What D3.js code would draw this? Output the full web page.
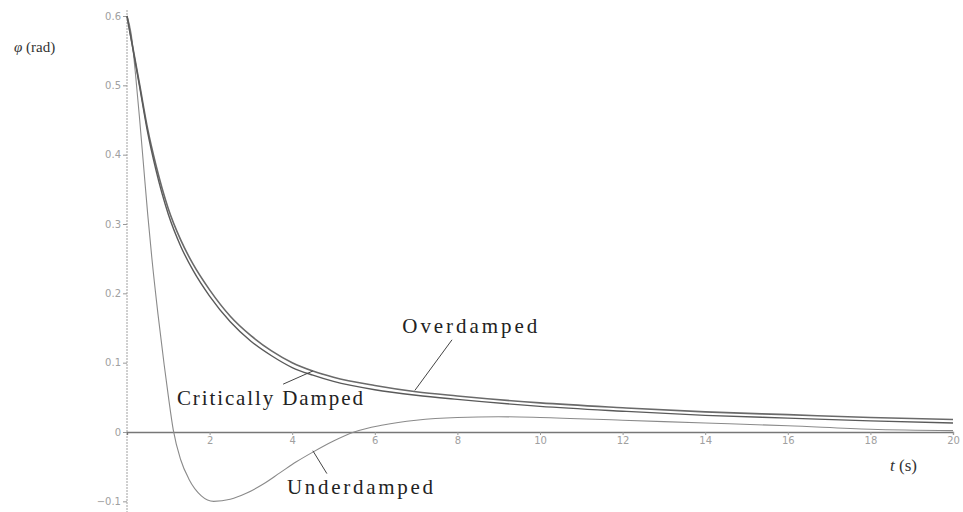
<!DOCTYPE html>
<html>
<head>
<meta charset="utf-8">
<script src="https://cdn.jsdelivr.net/npm/d3@7"></script>
<style>
  body { margin: 0; background: #fff; }
  svg { display: block; }
</style>
</head>
<body>
<svg id="chart" width="963" height="512"></svg>
<script>
// time samples (s) and angle (rad)
const overT   = [0, 0.15, 0.3, 0.5, 0.7, 1.0, 1.3, 1.6, 2.0, 2.5, 3.0, 3.5, 4.0, 4.5, 5, 6, 7, 8, 10, 12, 14, 16, 18, 20];
const overPhi = [0.6, 0.552, 0.503, 0.437, 0.385, 0.322, 0.277, 0.242, 0.205, 0.167, 0.139, 0.117, 0.1, 0.088, 0.079, 0.067, 0.058, 0.052, 0.042, 0.035, 0.029, 0.025, 0.021, 0.018];

const critT   = [0, 0.15, 0.3, 0.5, 0.7, 1.0, 1.3, 1.6, 2.0, 2.5, 3.0, 3.5, 4.0, 4.5, 5, 6, 7, 8, 10, 12, 14, 16, 18, 20];
const critPhi = [0.6, 0.55, 0.5, 0.432, 0.378, 0.314, 0.268, 0.233, 0.196, 0.159, 0.131, 0.11, 0.093, 0.082, 0.073, 0.061, 0.053, 0.047, 0.037, 0.03, 0.024, 0.02, 0.016, 0.013];

const underT   = [0, 0.1, 0.2, 0.3, 0.4, 0.5, 0.6, 0.75, 0.9, 1.0, 1.12, 1.3, 1.5, 1.8, 2.1, 2.5, 2.9, 3.3, 3.7, 4.1, 4.5, 5.0, 5.5, 6.2, 7.0, 8, 9, 10, 12, 14, 16, 18, 20];
const underPhi = [0.6, 0.575, 0.52, 0.455, 0.385, 0.315, 0.252, 0.17, 0.097, 0.052, 0.003, -0.04, -0.068, -0.092, -0.1, -0.097, -0.088, -0.075, -0.059, -0.043, -0.029, -0.013, 0, 0.01, 0.017, 0.021, 0.022, 0.021, 0.017, 0.013, 0.009, 0.004, 0.002];

const xTicks = [2, 4, 6, 8, 10, 12, 14, 16, 18, 20];
const yTicks = [-0.1, 0, 0.1, 0.2, 0.3, 0.4, 0.5, 0.6];

// curve labels: text, label centre (t, phi), pointer from (t, phi) to (t, phi)
const labelNames = ['Overdamped', 'Critically Damped', 'Underdamped'];
const labelAt    = [[8.3, 0.153], [3.46, 0.049], [5.64, -0.079]];
const pointers   = [[[7.87, 0.133], [6.97, 0.06]], [[3.78, 0.069], [4.5, 0.088]], [[4.5, -0.027], [4.84, -0.06]]];

const svg = d3.select('svg#chart');

const x = d3.scaleLinear().domain([0, 20]).range([127, 953]);
const y = d3.scaleLinear().domain([0, 0.6]).range([432, 16]);

// y axis (line runs the full height)
svg.append('line')
    .attr('x1', x(0)).attr('x2', x(0))
    .attr('y1', 10).attr('y2', 512)
    .attr('stroke', '#a0a0a0').attr('stroke-width', 1)
    .attr('stroke-dasharray', '2,1');

const yAxis = d3.axisLeft(y)
    .tickValues(yTicks)
    .tickSize(4)
    .tickFormat(d => d === 0 ? '0' : d3.format('.1f')(d));

svg.append('g')
    .attr('transform', `translate(${x(0)},0)`)
    .call(yAxis)
    .call(g => g.select('.domain').remove())
    .call(g => g.selectAll('.tick line').attr('stroke', '#999'))
    .call(g => g.selectAll('.tick text')
        .attr('fill', '#a0a0a0')
        .attr('x', -6)
        .style('font-family', '"DejaVu Sans", sans-serif')
        .style('font-size', '10px'));

// x axis along phi = 0
const xAxis = d3.axisBottom(x)
    .tickValues(xTicks)
    .tickSize(3)
    .tickFormat(d3.format('d'));

svg.append('g')
    .attr('transform', `translate(0,${y(0)})`)
    .call(xAxis)
    .call(g => g.select('.domain').attr('stroke', '#777').attr('stroke-width', 1.3))
    .call(g => g.selectAll('.tick line').attr('stroke', '#999'))
    .call(g => g.selectAll('.tick text')
        .attr('fill', '#a0a0a0')
        .attr('y', 5)
        .style('font-family', '"DejaVu Sans", sans-serif')
        .style('font-size', '10px'));

// curves
const line = d3.line()
    .x(d => x(d[0]))
    .y(d => y(d[1]))
    .curve(d3.curveMonotoneX);

const series = [
    {t: underT, v: underPhi, color: '#8a8a8a', w: 1.1},
    {t: overT, v: overPhi, color: '#6a6a6a', w: 1.6},
    {t: critT, v: critPhi, color: '#5a5a5a', w: 1.4}
];

svg.selectAll('path.curve').data(series)
    .enter().append('path')
    .attr('class', 'curve')
    .attr('fill', 'none')
    .attr('stroke', d => d.color)
    .attr('stroke-width', d => d.w)
    .attr('d', d => line(d.t.map((t, i) => [t, d.v[i]])));

// pointer lines
svg.selectAll('line.pointer').data(pointers)
    .enter().append('line')
    .attr('class', 'pointer')
    .attr('x1', d => x(d[0][0])).attr('y1', d => y(d[0][1]))
    .attr('x2', d => x(d[1][0])).attr('y2', d => y(d[1][1]))
    .attr('stroke', '#444').attr('stroke-width', 1);

// curve labels
const labelWidths = [135, 186, 146];
svg.selectAll('text.curve-label').data(labelNames)
    .enter().append('text')
    .attr('class', 'curve-label')
    .attr('x', (d, i) => x(labelAt[i][0]))
    .attr('y', (d, i) => y(labelAt[i][1]))
    .attr('dy', '0.35em')
    .attr('text-anchor', 'middle')
    .attr('textLength', (d, i) => labelWidths[i])
    .attr('lengthAdjust', 'spacing')
    .attr('fill', '#222')
    .style('font-family', '"Liberation Serif", "Times New Roman", serif')
    .style('font-size', '21px')
    .text(d => d);

// axis titles
const yTitle = svg.append('text')
    .attr('x', 14).attr('y', 52)
    .attr('fill', '#333')
    .style('font-family', '"Liberation Serif", serif')
    .style('font-size', '15px');
yTitle.append('tspan').style('font-style', 'italic').text('φ');
yTitle.append('tspan').text(' (rad)');

const xTitle = svg.append('text')
    .attr('x', 890).attr('y', 471)
    .attr('fill', '#333')
    .style('font-family', '"Liberation Serif", serif')
    .style('font-size', '17px');
xTitle.append('tspan').style('font-style', 'italic').text('t');
xTitle.append('tspan').text(' (s)');
</script>
</body>
</html>
